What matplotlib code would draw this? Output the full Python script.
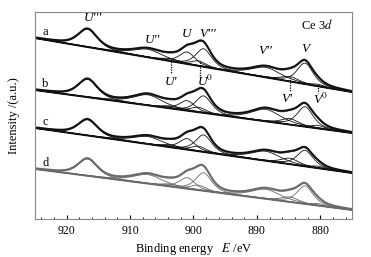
import matplotlib
matplotlib.use('Agg')
import matplotlib.pyplot as plt
import numpy as np

plt.rcParams['font.family'] = ['Liberation Serif', 'DejaVu Serif']
plt.rcParams['mathtext.fontset'] = 'stix'

# Ce 3d component peaks: U''', U'', U', U, U0, V''', V'', V', V, V0
centers = [916.7, 907.2, 903.6, 901.0, 899.2, 898.4, 888.6, 884.8, 882.4, 880.4]
fwhm = [3.6, 5.5, 3.2, 2.9, 2.8, 3.0, 5.5, 3.2, 3.0, 2.5]

# peak heights (a.u.) for samples a-d
heights_a = [18, 8, 2.5, 12, 5, 18, 10, 5, 21, 2]
heights_b = [18, 10.5, 2.5, 10, 5, 17, 12, 6, 20, 3]
heights_c = [16, 7.5, 2.5, 11, 5, 17, 9.5, 6, 16, 2]
heights_d = [17, 9, 2.5, 11, 5, 18, 9.5, 5, 18, 2]

# linear background: value at 925 eV and at 875 eV
bg_a = [181, 127]
bg_b = [129, 86]
bg_c = [91, 46]
bg_d = [50, 9]

spectra = [('a', heights_a, bg_a, '#111111'),
           ('b', heights_b, bg_b, '#111111'),
           ('c', heights_c, bg_c, '#111111'),
           ('d', heights_d, bg_d, '#6a6a6a')]

E = np.linspace(925, 875, 1201)


def peak(x, c, h, w, eta=0.6):
    g = np.exp(-4 * np.log(2) * ((x - c) / w) ** 2)
    l = 1 / (1 + 4 * ((x - c) / w) ** 2)
    return h * (eta * l + (1 - eta) * g)


fig = plt.figure(figsize=(3.71, 2.57), dpi=100)
ax = fig.add_axes([0.0943, 0.148, 0.8545, 0.805])

for name, hs, bg, col in spectra:
    base = bg[0] + (bg[1] - bg[0]) * (925 - E) / 50
    total = base.copy()
    for c, h, w in zip(centers, hs, fwhm):
        comp = peak(E, c, h, w)
        total += comp
        ax.plot(E, base + comp, color=col, lw=0.6)
    ax.plot(E, total, color=col, lw=1.4)
    ax.plot(E, total - 1.0, color=col, lw=0.5)
    ax.plot(E, base, color=col, lw=1.4)
    ax.text(923.4, bg[0] + 6, name, fontsize=9, ha='center', va='center', color='black')

# peak labels
tkw = dict(fontsize=9.5, ha='center', va='center', fontstyle='italic')
ax.text(915.8, 201, "U'''", **tkw)
ax.text(906.4, 179, "U''", **tkw)
ax.text(901.1, 185, "U", **tkw)
ax.text(897.7, 185.5, "V'''", **tkw)
ax.text(888.7, 168, "V''", **tkw)
ax.text(882.3, 170, "V", **tkw)
ax.text(903.6, 137.5, "U'", **tkw)
ax.text(898.2, 138, r"U$^{0}$", **tkw)
ax.text(885.3, 120.5, "V'", **tkw)
ax.text(880.0, 119.5, r"V$^{0}$", **tkw)
ax.text(0.889, 0.937, r"Ce 3$d$", transform=ax.transAxes, fontsize=9,
        ha='center', va='center')

# dotted markers
for x0, y0, y1 in [(903.6, 160, 146), (898.9, 157, 143), (884.8, 142, 127), (880.3, 134, 126)]:
    ax.plot([x0, x0], [y0, y1], color='black', lw=0.9, ls=(0, (1, 1)))

ax.set_xlim(925, 875)
ax.set_ylim(0, 207)
ax.set_yticks([])
ax.set_xticks([920, 910, 900, 890, 880])
ax.set_xticks(np.arange(876, 925, 2), minor=True)
ax.tick_params(axis='x', direction='in', length=3, labelsize=8.5, pad=4)
ax.tick_params(axis='x', which='minor', direction='in', length=1.5)
for s in ax.spines.values():
    s.set_color('#888888')
    s.set_linewidth(0.8)

ax.set_xlabel(r"Binding energy   $E$ /eV", fontsize=9, labelpad=3)
ax.set_ylabel("Intensity /(a.u.)", fontsize=9, labelpad=11)

fig.savefig('out.png', dpi=100)
